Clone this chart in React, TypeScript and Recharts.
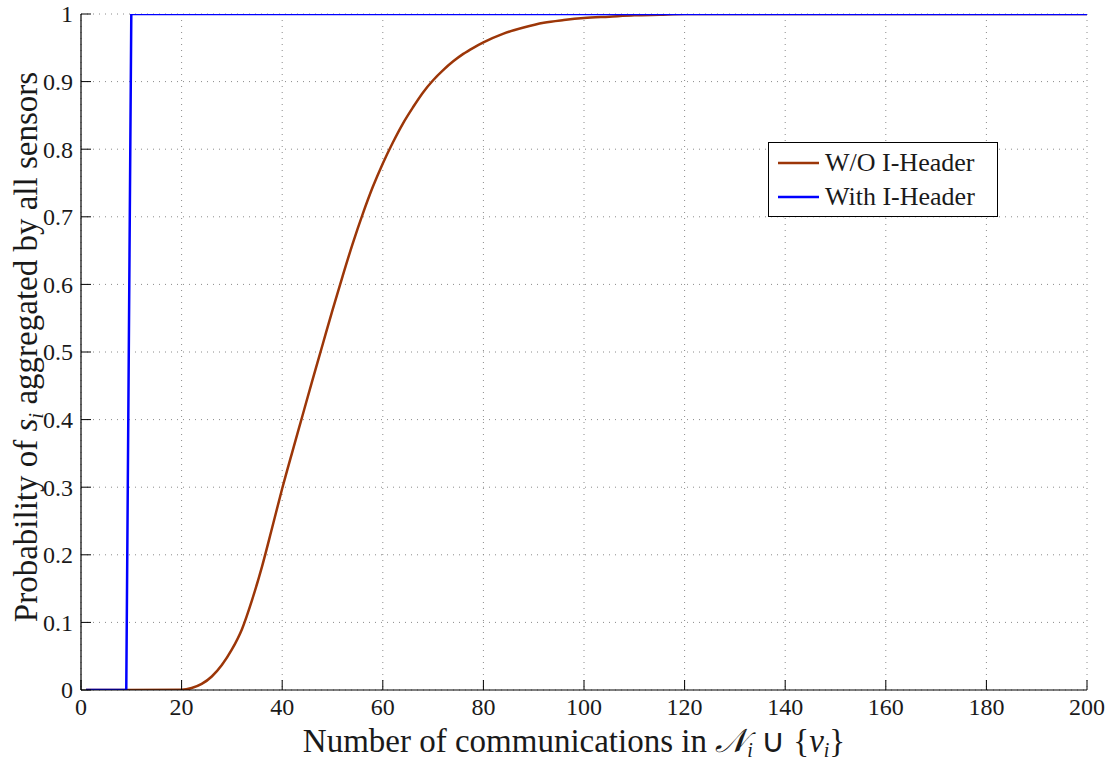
import React from 'react';
import { LineChart, Line, XAxis, YAxis, CartesianGrid, Legend } from 'recharts';

// Axis ticks
const xTicks = [0, 20, 40, 60, 80, 100, 120, 140, 160, 180, 200];
const yTicks = [0, 0.1, 0.2, 0.3, 0.4, 0.5, 0.6, 0.7, 0.8, 0.9, 1];
const yTickLabels = ['0', '0.1', '0.2', '0.3', '0.4', '0.5', '0.6', '0.7', '0.8', '0.9', '1'];

// Series: without I-Header
const withoutX = [1, 20, 22, 24, 26, 28, 30, 32, 34, 36, 38, 40, 42, 44, 46, 48, 50, 52, 54, 56, 58, 60, 62, 64, 66, 68, 70, 72, 74, 76, 78, 80, 84, 88, 92, 96, 100, 105, 110, 115, 120, 200];
const withoutY = [0, 0.0005, 0.003, 0.009, 0.02, 0.037, 0.06, 0.09, 0.133, 0.183, 0.24, 0.298, 0.352, 0.405, 0.458, 0.51, 0.562, 0.612, 0.66, 0.704, 0.744, 0.779, 0.81, 0.838, 0.862, 0.884, 0.902, 0.917, 0.93, 0.941, 0.95, 0.958, 0.971, 0.98, 0.987, 0.991, 0.994, 0.996, 0.998, 0.999, 1.0, 1.0];

// Series: with I-Header
const withX = [1, 9, 10, 200];
const withY = [0, 0, 1, 1];

const seriesNames = ['W/O I-Header', 'With I-Header'];
const seriesColors = ['#9C3608', '#0000FF'];

const withoutData = withoutX.map((x, i) => ({ x, p: withoutY[i] }));
const withData = withX.map((x, i) => ({ x, p: withY[i] }));

const FONT = 'Liberation Serif';
const SVG_FONT = 'Times New Roman, serif';
const TEXT = '#1a1a1a';
const TICK_LEN = 10;
const TICK_GAP = 8;

const BottomTick = (props: any) => {
  const { x, y, payload } = props;
  const axisY = y - TICK_GAP;
  return (
    <g>
      <line x1={x} x2={x} y1={axisY} y2={axisY - TICK_LEN} stroke="#000" strokeWidth={1} />
      <text x={x} y={axisY + TICK_GAP} dy="0.71em" textAnchor="middle" fontFamily={SVG_FONT} fontSize={24} fill={TEXT}>
        {payload.value}
      </text>
    </g>
  );
};

const LeftTick = (props: any) => {
  const { x, y, payload, index } = props;
  const axisX = x + TICK_GAP;
  return (
    <g>
      <line x1={axisX} x2={axisX + TICK_LEN} y1={y} y2={y} stroke="#000" strokeWidth={1} />
      <text x={x} y={y} dy="0.35em" textAnchor="end" fontFamily={SVG_FONT} fontSize={24} fill={TEXT}>
        {yTickLabels[index] ?? payload.value}
      </text>
    </g>
  );
};

const TopTick = (props: any) => {
  const { x, y } = props;
  return <line x1={x} x2={x} y1={y} y2={y + TICK_LEN} stroke="#000" strokeWidth={1} />;
};

const RightTick = (props: any) => {
  const { x, y } = props;
  return <line x1={x} x2={x - TICK_LEN} y1={y} y2={y} stroke="#000" strokeWidth={1} />;
};

const XTitle = (props: any) => {
  const { viewBox } = props;
  const cx = viewBox.x + viewBox.width / 2 - 10;
  const y = viewBox.y + 62;
  return (
    <text x={cx} y={y} textAnchor="middle" fontFamily={SVG_FONT} fontSize={33} fill={TEXT}>
      Number of communications in{' '}
      <tspan fontStyle="italic">𝒩</tspan>
      <tspan fontStyle="italic" fontSize={20} dy={5}>i</tspan>
      <tspan dy={-5}> ∪ {'{'}</tspan>
      <tspan fontStyle="italic">v</tspan>
      <tspan fontStyle="italic" fontSize={20} dy={5}>i</tspan>
      <tspan dy={-5}>{'}'}</tspan>
    </text>
  );
};

const YTitle = (props: any) => {
  const { viewBox } = props;
  const x = viewBox.x + 37;
  const cy = viewBox.y + viewBox.height / 2 - 5;
  return (
    <text
      x={x}
      y={cy}
      transform={`rotate(-90, ${x}, ${cy})`}
      textAnchor="middle"
      fontFamily={SVG_FONT}
      fontSize={33}
      fill={TEXT}
    >
      Probability of <tspan fontStyle="italic">s</tspan>
      <tspan fontStyle="italic" fontSize={21} dy={6}>i</tspan>
      <tspan dy={-6}> aggregated by all sensors</tspan>
    </text>
  );
};

const LegendBox = (props: any) => {
  const { payload } = props;
  return (
    <div
      style={{
        width: 230,
        height: 75,
        boxSizing: 'border-box',
        border: '1.5px solid #000',
        background: '#fff',
        paddingTop: 3,
        fontFamily: FONT,
        fontSize: 26,
        color: TEXT,
      }}
    >
      {(payload || []).map((entry: any, i: number) => (
        <div key={i} style={{ display: 'flex', alignItems: 'center', height: 34 }}>
          <svg width={56} height={10} style={{ flex: 'none' }}>
            <line x1={9} x2={50} y1={5} y2={5} stroke={entry.color} strokeWidth={2.5} />
          </svg>
          <span style={{ lineHeight: '34px', whiteSpace: 'nowrap' }}>{entry.value}</span>
        </div>
      ))}
    </div>
  );
};

export default function App() {
  return (
    <div style={{ position: 'absolute', left: 0, top: 0, background: '#fff', fontFamily: FONT }}>
      <LineChart width={1119} height={764} margin={{ top: 14, right: 32, bottom: 0, left: 0 }}>
        <CartesianGrid stroke="#8a8a8a" strokeDasharray="1 5" strokeWidth={1} />
        <XAxis
          type="number"
          dataKey="x"
          domain={[0, 200]}
          ticks={xTicks}
          allowDataOverflow
          height={74}
          tickSize={0}
          tickMargin={TICK_GAP}
          tickLine={false}
          axisLine={{ stroke: '#000', strokeWidth: 1.2 }}
          tick={<BottomTick />}
          interval={0}
          label={{ content: <XTitle /> }}
        />
        <XAxis
          xAxisId="top"
          orientation="top"
          type="number"
          dataKey="x"
          domain={[0, 200]}
          ticks={xTicks}
          allowDataOverflow
          height={0}
          tickSize={0}
          tickMargin={0}
          tickLine={false}
          axisLine={{ stroke: '#000', strokeWidth: 1.2 }}
          tick={<TopTick />}
          interval={0}
        />
        <YAxis
          type="number"
          domain={[0, 1]}
          ticks={yTicks}
          allowDataOverflow
          width={81}
          tickSize={0}
          tickMargin={TICK_GAP}
          tickLine={false}
          axisLine={{ stroke: '#000', strokeWidth: 1.2 }}
          tick={<LeftTick />}
          interval={0}
          label={{ content: <YTitle /> }}
        />
        <YAxis
          yAxisId="right"
          orientation="right"
          type="number"
          domain={[0, 1]}
          ticks={yTicks}
          allowDataOverflow
          width={0}
          tickSize={0}
          tickMargin={0}
          tickLine={false}
          axisLine={{ stroke: '#000', strokeWidth: 1.2 }}
          tick={<RightTick />}
          interval={0}
        />
        <Line
          data={withoutData}
          dataKey="p"
          name={seriesNames[0]}
          type="monotone"
          stroke={seriesColors[0]}
          strokeWidth={2.5}
          dot={false}
          isAnimationActive={false}
        />
        <Line
          data={withData}
          dataKey="p"
          name={seriesNames[1]}
          type="linear"
          stroke={seriesColors[1]}
          strokeWidth={2.5}
          dot={false}
          isAnimationActive={false}
        />
        <Legend
          layout="vertical"
          align="center"
          verticalAlign="middle"
          content={<LegendBox />}
          wrapperStyle={{ position: 'absolute', left: 768, top: 142, width: 230, height: 75 }}
        />
      </LineChart>
    </div>
  );
}
